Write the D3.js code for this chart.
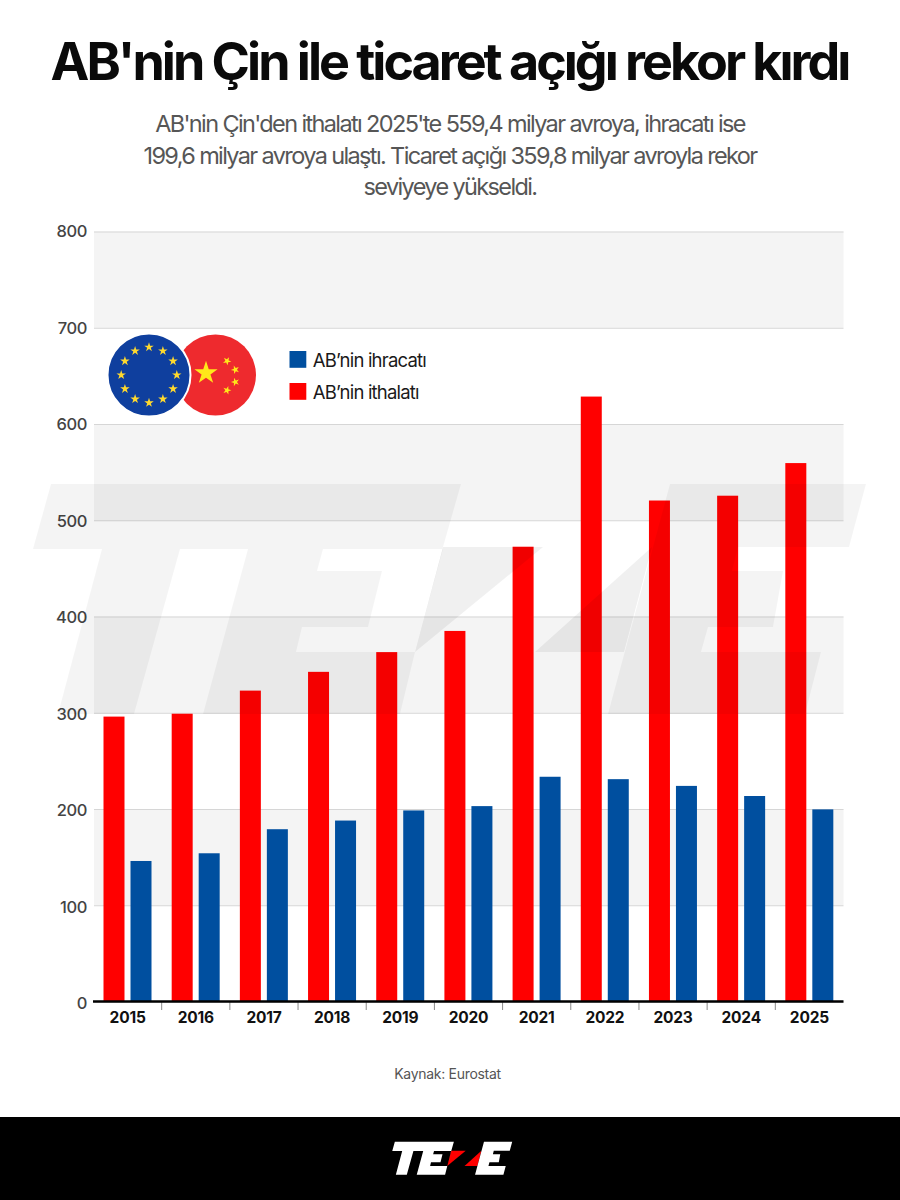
<!DOCTYPE html>
<html lang="tr">
<head>
<meta charset="utf-8">
<title>AB'nin Çin ile ticaret açığı rekor kırdı</title>
<script src="https://cdn.jsdelivr.net/npm/d3@7/dist/d3.min.js"></script>
<style>
  html, body { margin: 0; padding: 0; background: #fff; }
  svg { display: block; font-family: Inter, "Noto Sans", sans-serif; }
</style>
</head>
<body>
<svg id="chart" width="900" height="1200"></svg>
<script>
// Yearly EU-China trade, billion euros
const years = ["2015","2016","2017","2018","2019","2020","2021","2022","2023","2024","2025"];
const imports = [296, 299, 323, 342.5, 363, 385, 472.5, 628.5, 520.5, 525.5, 559.4];
const exportsEU = [146, 154, 179, 188, 198.5, 203, 233.5, 231, 224, 213.5, 199.6];
const yTicks = [0, 100, 200, 300, 400, 500, 600, 700, 800];
const seriesNames = ["AB’nin ithalatı", "AB’nin ihracatı"];
const seriesColors = ["#ff0000", "#004f9f"];
const titleText = "AB'nin Çin ile ticaret açığı rekor kırdı";
const subtitleLines = [
  "AB'nin Çin'den ithalatı 2025'te 559,4 milyar avroya, ihracatı ise",
  "199,6 milyar avroya ulaştı. Ticaret açığı 359,8 milyar avroyla rekor",
  "seviyeye yükseldi."
];
const sourceText = "Kaynak: Eurostat";

const svg = d3.select("#chart");
svg.append("rect").attr("width", 900).attr("height", 1200).attr("fill", "#fff");

// Heading block
svg.append("text").attr("x", 449.5).attr("y", 80).attr("text-anchor", "middle")
  .attr("font-size", 52).attr("font-weight", 700).attr("letter-spacing", -3)
  .attr("fill", "#0a0a0a").text(titleText);
svg.append("g").selectAll("text").data(subtitleLines).join("text")
  .attr("x", 450).attr("y", (d, i) => 132 + i * 31.6).attr("text-anchor", "middle")
  .attr("font-size", 23.5).attr("letter-spacing", -1.63).attr("fill", "#565656").text(d => d);

// Scales
const x0 = d3.scaleBand().domain(years).range([93.5, 843.5]);
const x1 = d3.scaleBand().domain(seriesNames).range([10, 58]).paddingInner(6 / 27);
const y = d3.scaleLinear().domain([0, 800]).range([1001.5, 231.5]);

// Alternating hundred-wide background stripes
svg.append("g").selectAll("rect")
  .data(yTicks.filter(t => t % 200 === 100))
  .join("rect")
  .attr("x", 94).attr("width", 749.5)
  .attr("y", d => y(d + 100)).attr("height", d => y(d) - y(d + 100))
  .attr("fill", "#f4f4f4");

// Value axis with gridlines; labels settle slightly lower toward the baseline
const yAxis = svg.append("g").attr("transform", "translate(94,0)")
  .call(d3.axisLeft(y).tickValues(yTicks).tickSize(-749.5).tickPadding(7).tickFormat(d3.format("d")));
yAxis.select(".domain").remove();
yAxis.selectAll(".tick line").attr("stroke", "#d6d6d6").attr("stroke-width", 1);
yAxis.selectAll(".tick text")
  .attr("y", d => (800 - d) / 800 * 1.8)
  .attr("font-family", "Inter").attr("font-size", 16.5).attr("font-weight", 500)
  .attr("letter-spacing", -0.4).attr("fill", "#444");

// Grouped bars
const rows = years.map((year, i) => ({ year, values: [imports[i], exportsEU[i]] }));
svg.append("g").selectAll("g").data(rows).join("g")
  .attr("transform", d => `translate(${x0(d.year)},0)`)
  .selectAll("rect")
  .data(d => d.values.map((value, k) => ({ value, k })))
  .join("rect")
  .attr("x", d => x1(seriesNames[d.k]))
  .attr("width", x1.bandwidth())
  .attr("y", d => y(d.value))
  .attr("height", d => y(0) - y(d.value))
  .attr("fill", d => seriesColors[d.k]);

// Category axis: bold labels, small separators between years, heavy baseline
const xAxis = svg.append("g").attr("transform", "translate(0,1001.5)")
  .call(d3.axisBottom(x0).tickSize(0).tickPadding(10));
xAxis.select(".domain").remove();
xAxis.selectAll(".tick text")
  .attr("font-family", "Inter").attr("font-size", 15.5).attr("font-weight", 700)
  .attr("letter-spacing", -0.2).attr("fill", "#111");
svg.append("g").selectAll("line").data(years.slice(1)).join("line")
  .attr("x1", d => x0(d)).attr("x2", d => x0(d))
  .attr("y1", 1002).attr("y2", 1010)
  .attr("stroke", "#8a8a8a").attr("stroke-width", 1);
svg.append("line").attr("x1", 93).attr("x2", 843.5)
  .attr("y1", y(0)).attr("y2", y(0))
  .attr("stroke", "#000").attr("stroke-width", 2.6);

// Five-point star path centred on the origin
function starPath(r, rot) {
  const pts = d3.range(10).map(i => {
    const rad = i % 2 ? r * 0.382 : r;
    const a = -Math.PI / 2 + rot + i * Math.PI / 5;
    return [rad * Math.cos(a), rad * Math.sin(a)];
  });
  return "M" + pts.join("L") + "Z";
}

// China and EU roundels
const flags = svg.append("g");
flags.append("circle").attr("cx", 215.5).attr("cy", 375).attr("r", 40.5).attr("fill", "#ee2a2e");
[[206, 373, 12.2, 0], [227, 361, 4.4, 0.5], [235.3, 369.7, 4.4, 0.9], [235.3, 382, 4.4, -0.3], [227, 390.3, 4.4, 0.3]]
  .forEach(([cx, cy, r, rot]) => {
    flags.append("path").attr("transform", `translate(${cx},${cy})`)
      .attr("d", starPath(r, rot)).attr("fill", "#ffe81a");
  });
flags.append("circle").attr("cx", 149).attr("cy", 375).attr("r", 41.5)
  .attr("fill", "#0f3f9e").attr("stroke", "#fff").attr("stroke-width", 2);
d3.range(12).forEach(i => {
  const a = i * Math.PI / 6;
  flags.append("path")
    .attr("transform", `translate(${149 + 27.8 * Math.sin(a)},${375 - 27.8 * Math.cos(a)})`)
    .attr("d", starPath(5, 0)).attr("fill", "#ffd92e");
});

// Legend
const legendRows = [
  { name: seriesNames[1], color: seriesColors[1], top: 351 },
  { name: seriesNames[0], color: seriesColors[0], top: 383 }
];
const legend = svg.append("g").selectAll("g").data(legendRows).join("g")
  .attr("transform", d => `translate(289.5,${d.top})`);
legend.append("rect").attr("width", 16.8).attr("height", 16.8).attr("fill", d => d.color);
legend.append("text").attr("x", 23.2).attr("y", 15.5)
  .attr("font-size", 18.5).attr("letter-spacing", -0.8).attr("fill", "#1a1a1a").text(d => d.name);

// Source line
svg.append("text").attr("x", 447.5).attr("y", 1079).attr("text-anchor", "middle")
  .attr("font-size", 14).attr("letter-spacing", -0.3).attr("fill", "#555").text(sourceText);

// Brand mark outline, shared by the page watermark and the footer
const logoBody = [
  [[51,484],[461,484],[443,547],[415,652],[400,714],[203,714],[248,549],[323,549],[317,571],[382,571],[368,627],[302,627],[296,652],[415,652],[443,549],[180,549],[134,714],[58,714],[102,549],[33,549]],
  [[670,484],[866,484],[849,547],[738,547],[732,571],[783,571],[773,627],[708,627],[701,652],[821,652],[805,714],[608,714]]
];
const logoWedges = [
  [[443,547],[543,547],[415,652]],
  [[652,547],[535,652],[624,652]]
];
const outline = d3.line();
function closed(p) { return outline(p) + "Z"; }

// Watermark lies over the plot, tinting bars and gridlines as well
const mark = svg.append("g");
mark.selectAll(".body").data(logoBody).join("path").attr("class", "body")
  .attr("d", closed).attr("fill", "#000").attr("fill-opacity", 0.045);
mark.selectAll(".wedge").data(logoWedges).join("path").attr("class", "wedge")
  .attr("d", closed).attr("fill", "#000").attr("fill-opacity", 0.06);

// Footer band
svg.append("rect").attr("y", 1117).attr("width", 900).attr("height", 83).attr("fill", "#000");
const footerMark = svg.append("g").attr("transform", "translate(387.5,1072) scale(0.144)");
footerMark.selectAll(".wedge").data(logoWedges).join("path").attr("class", "wedge")
  .attr("d", closed).attr("fill", "#ff0000");
footerMark.selectAll(".body").data(logoBody).join("path").attr("class", "body")
  .attr("d", closed).attr("fill", "#fff");
</script>
</body>
</html>
